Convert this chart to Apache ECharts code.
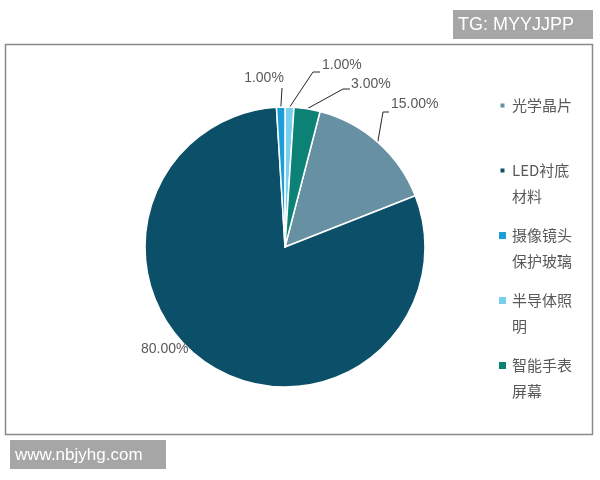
<!DOCTYPE html>
<html>
<head>
<meta charset="utf-8">
<script src="https://cdn.jsdelivr.net/npm/echarts@6/dist/echarts.min.js"></script>
<style>html,body{margin:0;padding:0;background:#fff;}#c{width:600px;height:480px;}</style>
</head>
<body>
<div id="c"></div>
<script>
const categories = ['光学晶片', 'LED衬底材料', '摄像镜头保护玻璃', '半导体照明', '智能手表屏幕'];
const shares = [15, 80, 1, 1, 3];
const legendText = ['光学晶片\n ', 'LED衬底\n材料', '摄像镜头\n保护玻璃', '半导体照\n明', '智能手表\n屏幕'];
const sliceColors = ['#6791a3', '#0b4f68', '#1b9fd8', '#78cfee', '#0b8275'];

const chart = echarts.init(document.getElementById('c'), null, {renderer: 'canvas'});

// legend marker shapes: square at the top of a tall box so it lines up with the first text line
const bigMark = 'path://M0,0L9,0L9,9L0,9Z M9,34L8.99,34L8.99,33.99Z';
const smallMark = 'path://M1.5,1.5L7.5,1.5L7.5,7.5L1.5,7.5Z M0,0L0.01,0L0.01,0.01Z M9,34L8.99,34L8.99,33.99Z';

const labelSpots = {
  0: {x: 391, y: 104, align: 'left', bend: [383, 112], end: [389, 112]},
  1: {x: 141, y: 349, align: 'left'},
  2: {x: 264, y: 78, align: 'center', bend: [282, 88], end: [282, 88]},
  3: {x: 322, y: 65, align: 'left', bend: [313, 72], end: [320, 72]},
  4: {x: 351, y: 84, align: 'left', bend: [343, 89], end: [350, 89]}
};

const option = {
  backgroundColor: '#fff',
  animation: false,
  color: sliceColors,
  legend: {
    orient: 'vertical',
    left: 497,
    top: 92,
    padding: 0,
    itemWidth: 9,
    itemHeight: 34,
    itemGap: 13,
    data: categories.map(function (name, i) {
      return {name: name, icon: i < 2 ? smallMark : bigMark};
    }),
    formatter: function (name) {
      return legendText[categories.indexOf(name)];
    },
    textStyle: {
      fontFamily: 'Noto Sans CJK SC',
      fontSize: 15,
      lineHeight: 26,
      color: '#595959'
    }
  },
  graphic: [
    {type: 'rect', shape: {x: 5.5, y: 44.5, width: 587, height: 390}, style: {fill: 'none', stroke: '#8a8a8a', lineWidth: 1.5}, z: 0},
    {type: 'rect', shape: {x: 453, y: 10, width: 140, height: 29}, style: {fill: '#a6a6a6'}},
    {type: 'text', x: 458, y: 25, style: {text: 'TG: MYYJJPP', fill: '#fff', font: '18px "Liberation Sans"', textVerticalAlign: 'middle'}},
    {type: 'rect', shape: {x: 10, y: 440, width: 156, height: 29}, style: {fill: '#a6a6a6'}},
    {type: 'text', x: 15, y: 455, style: {text: 'www.nbjyhg.com', fill: '#fff', font: '17px "Liberation Sans"', textVerticalAlign: 'middle'}}
  ],
  series: [{
    type: 'pie',
    center: [285, 247],
    radius: 140,
    startAngle: 75.5,
    clockwise: true,
    avoidLabelOverlap: false,
    itemStyle: {borderColor: '#fff', borderWidth: 1.5},
    label: {
      show: true,
      position: 'outside',
      color: '#595959',
      fontSize: 14,
      fontFamily: 'Liberation Sans',
      formatter: function (p) { return p.percent.toFixed(2) + '%'; }
    },
    labelLine: {show: true, length: 10, length2: 10, lineStyle: {color: '#262626', width: 1}},
    labelLayout: function (params) {
      const s = labelSpots[params.dataIndex];
      const out = {x: s.x, y: s.y, align: s.align, verticalAlign: 'middle'};
      if (s.bend && params.labelLinePoints) {
        out.labelLinePoints = [params.labelLinePoints[0], s.bend, s.end];
      }
      return out;
    },
    data: categories.map(function (name, i) {
      const d = {name: name, value: shares[i]};
      if (i === 1) d.labelLine = {show: false};
      return d;
    })
  }]
};
chart.setOption(option);
</script>
</body>
</html>
